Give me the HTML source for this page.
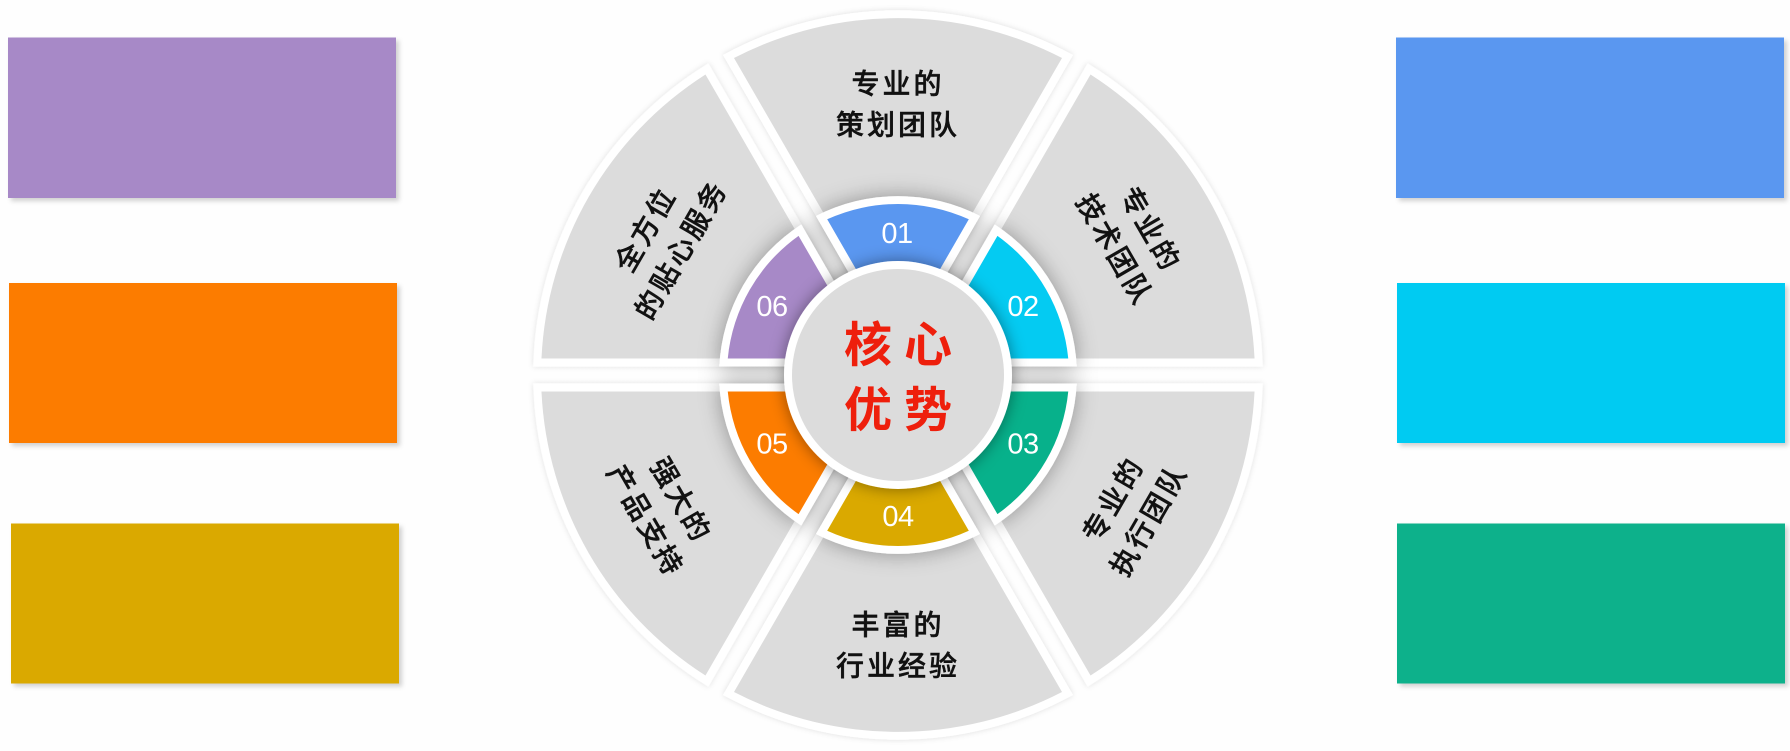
<!DOCTYPE html>
<html lang="zh">
<head>
<meta charset="utf-8">
<style>
html,body{margin:0;padding:0;background:#fefefe;width:1790px;height:751px;overflow:hidden}
svg{display:block}
.t{font-family:"Liberation Sans","Noto Sans CJK SC",sans-serif;font-size:28px;font-weight:500;letter-spacing:3px;fill:#111;stroke:#111;stroke-width:.45px;text-anchor:middle;dominant-baseline:central}
.n{font-family:"Liberation Sans",sans-serif;font-size:29px;letter-spacing:-.5px;fill:#fff;text-anchor:middle;dominant-baseline:central}
.c{font-family:"Liberation Sans","Noto Sans CJK SC",sans-serif;font-size:48px;font-weight:700;fill:#ee1f0c;text-anchor:middle;dominant-baseline:central}
</style>
</head>
<body>
<svg width="1790" height="751" viewBox="0 0 1790 751" xmlns="http://www.w3.org/2000/svg">
<defs>
<filter id="rs" x="-5%" y="-10%" width="110%" height="120%"><feDropShadow dx="3" dy="3" stdDeviation="2.5" flood-color="#000" flood-opacity=".18"/></filter>
<filter id="ws" x="-20%" y="-20%" width="140%" height="140%"><feDropShadow dx="0" dy="0" stdDeviation="3" flood-color="#000" flood-opacity=".13"/></filter>
<filter id="ring" x="-40%" y="-40%" width="180%" height="180%"><feDropShadow dx="0" dy="0" stdDeviation="11" flood-color="#000" flood-opacity=".34"/></filter>
<filter id="cs" x="-30%" y="-30%" width="160%" height="160%"><feDropShadow dx="0" dy="0" stdDeviation="8" flood-color="#000" flood-opacity=".42"/></filter>
<g id="wedge">
<path d="M0,-17 L175,-320 A365,365 0 0 0 -175,-320 Z" fill="#fff" filter="url(#ws)"/>
<path d="M0,-33 L164,-317 A357,357 0 0 0 -164,-317 Z" fill="#dcdcdc"/>
</g>
<path id="rw" d="M0,-17 L82,-159 A179,179 0 0 0 -82,-159 Z" fill="#fff"/>
<path id="rc" d="M0,-33 L70.8,-155.7 A171,171 0 0 0 -70.8,-155.7 Z"/>
</defs>

<rect width="1790" height="751" fill="#fefefe"/>

<rect x="8" y="37.5" width="388" height="160.5" fill="#a789c7" filter="url(#rs)"/>
<rect x="9" y="283" width="388" height="160" fill="#fc7c00" filter="url(#rs)"/>
<rect x="11" y="523.5" width="388" height="160" fill="#daa900" filter="url(#rs)"/>
<rect x="1396" y="37.5" width="388" height="160.5" fill="#5a97f0" filter="url(#rs)"/>
<rect x="1397" y="283" width="388" height="160" fill="#04cbf2" filter="url(#rs)"/>
<rect x="1397" y="523.5" width="388" height="160" fill="#07b18b" filter="url(#rs)"/>

<g transform="translate(898 375)">
<use href="#wedge"/>
<use href="#wedge" transform="rotate(60)"/>
<use href="#wedge" transform="rotate(120)"/>
<use href="#wedge" transform="rotate(180)"/>
<use href="#wedge" transform="rotate(240)"/>
<use href="#wedge" transform="rotate(300)"/>

<g filter="url(#ring)">
<use href="#rw"/>
<use href="#rw" transform="rotate(60)"/>
<use href="#rw" transform="rotate(120)"/>
<use href="#rw" transform="rotate(180)"/>
<use href="#rw" transform="rotate(240)"/>
<use href="#rw" transform="rotate(300)"/>
</g>
<use href="#rc" fill="#5a97f0"/>
<use href="#rc" fill="#04cbf2" transform="rotate(60)"/>
<use href="#rc" fill="#07b18b" transform="rotate(120)"/>
<use href="#rc" fill="#daa900" transform="rotate(180)"/>
<use href="#rc" fill="#fc7c00" transform="rotate(240)"/>
<use href="#rc" fill="#a789c7" transform="rotate(300)"/>

<circle r="114" fill="#fff" filter="url(#cs)"/>
<circle r="106" fill="#dcdcdc"/>

<text class="t" y="-291">专业的</text>
<text class="t" y="-250">策划团队</text>

<text class="t" transform="rotate(60) translate(0,-291)">专业的</text>
<text class="t" transform="rotate(60) translate(0,-250)">技术团队</text>

<text class="t" transform="rotate(120) translate(0,-249) rotate(180)">专业的</text>
<text class="t" transform="rotate(120) translate(0,-290) rotate(180)">执行团队</text>

<text class="t" y="250">丰富的</text>
<text class="t" y="291">行业经验</text>

<text class="t" transform="rotate(240) translate(0,-251) rotate(180)">强大的</text>
<text class="t" transform="rotate(240) translate(0,-292) rotate(180)">产品支持</text>

<text class="t" transform="rotate(300) translate(0,-291)">全方位</text>
<text class="t" transform="rotate(300) translate(0,-250)">的贴心服务</text>

<text class="c" x="-30" y="-29">核</text>
<text class="c" x="30" y="-29">心</text>
<text class="c" x="-30" y="36">优</text>
<text class="c" x="30" y="36">势</text>

<text class="n" x="-1" y="-141">01</text>
<text class="n" x="125" y="-68">02</text>
<text class="n" x="125" y="69.5">03</text>
<text class="n" x="0" y="142">04</text>
<text class="n" x="-126" y="69.5">05</text>
<text class="n" x="-126" y="-68">06</text>
</g>
</svg>
</body>
</html>
